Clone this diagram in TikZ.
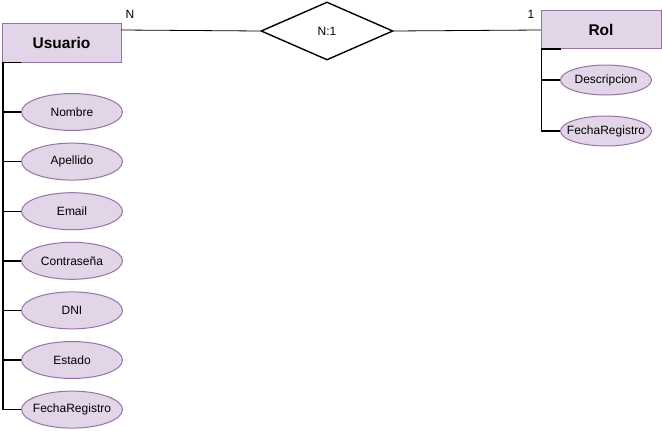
\documentclass[tikz,border=0pt]{standalone}
\usepackage{fontspec}
\setmainfont{Liberation Sans}
\usetikzlibrary{shapes.geometric, positioning}

\definecolor{lila}{HTML}{E1D5E7}
\definecolor{lilaborde}{HTML}{9673A6}
\newcommand{\etq}[1]{\makebox[0pt]{#1}}

\begin{document}
\begin{tikzpicture}[
    x=1pt, y=-1pt,
    entity/.style={rectangle, draw=lilaborde, fill=lila, minimum width=119pt, minimum height=39pt, inner sep=0pt, font=\bfseries\fontsize{15.5}{17}\selectfont},
    attr/.style={ellipse, draw=lilaborde, fill=lila, line width=1pt, minimum width=101pt, minimum height=37pt, inner sep=0pt, font=\fontsize{12}{14}\selectfont},
    rattr/.style={attr, minimum width=91pt, minimum height=30pt},
    rel/.style={diamond, draw, line width=1.4pt, minimum width=132pt, minimum height=58pt, inner sep=0pt, font=\fontsize{12}{14}\selectfont},
    link/.style={line width=1.4pt},
    card/.style={font=\fontsize{12}{14}\selectfont}
]
\useasboundingbox (0,0) rectangle (662,431);

% entidades y relacion
\node[entity] (usuario) at (61.5,42.5) {Usuario};
\node[entity, minimum width=120pt, minimum height=38pt] (rol) at (601,29.5) {Rol};
\node[rel] (usrol) at (327,31) {N:1};

\draw[line width=0.8pt] (usuario.east |- 0,30) -- (usrol.west);
\draw[line width=0.8pt] (usrol.east) -- (rol.west |- 0,30);
\node[card] (cardn) at (130,14) {N};
\node[card] (card1) at (531,14) {1};

% atributos de Usuario
\node[attr] (nombre) at (72,112) {\etq{Nombre}};
\node[attr, below=11.6pt of nombre] (apellido) {\etq{Apellido}};
\node[attr, below=11.6pt of apellido] (email) {\etq{Email}};
\node[attr, below=11.6pt of email] (contrasena) {\etq{Contraseña}};
\node[attr, below=11.6pt of contrasena] (dni) {\etq{DNI}};
\node[attr, below=11.6pt of dni] (estado) {\etq{Estado}};
\node[attr, below=11.6pt of estado] (fechau) {\etq{FechaRegistro}};

\coordinate (ustub) at (21,62.5);
\coordinate (ubar) at (3,62.5);
\foreach \a in {nombre,apellido,email,contrasena,dni,estado,fechau}
    \draw[link] (ustub) -- (ubar) |- (\a.west);

% atributos de Rol
\node[rattr] (descripcion) at (606,80) {\etq{Descripcion}};
\node[rattr, below=20pt of descripcion] (fechar) {\etq{FechaRegistro}};

\coordinate (rstub) at (561,49);
\coordinate (rbar) at (541.5,49);
\foreach \a in {descripcion,fechar}
    \draw[link] (rstub) -- (rbar) |- (\a.west);
\end{tikzpicture}
\end{document}
